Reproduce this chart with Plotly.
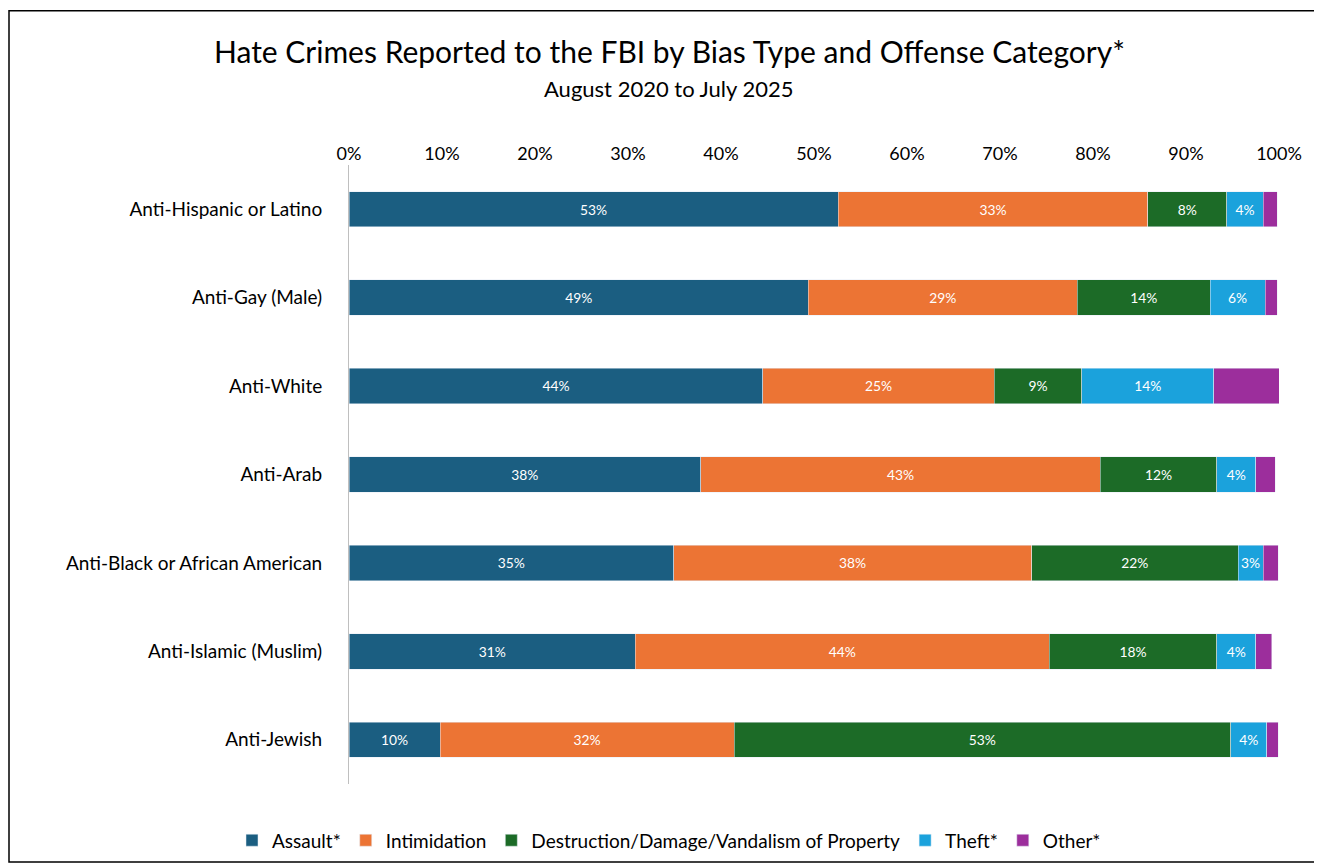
import plotly.graph_objects as go

categories = ["Anti-Hispanic or Latino", "Anti-Gay (Male)", "Anti-White", "Anti-Arab",
              "Anti-Black or African American", "Anti-Islamic (Muslim)", "Anti-Jewish"]
assault = [52.6, 49.4, 44.5, 37.8, 34.9, 30.8, 9.8]
intimidation = [33.3, 28.9, 24.9, 43.0, 38.5, 44.5, 31.6]
destruction = [8.5, 14.3, 9.4, 12.5, 22.2, 18.0, 53.4]
theft = [3.9, 5.9, 14.2, 4.2, 2.7, 4.2, 3.9]
other = [1.5, 1.3, 7.0, 2.1, 1.6, 1.7, 1.2]

series = [("Assault*", assault, "#1B5E81", True),
          ("Intimidation", intimidation, "#EC7434", True),
          ("Destruction/Damage/Vandalism of Property", destruction, "#1C6B27", True),
          ("Theft*", theft, "#1BA2DC", True),
          ("Other*", other, "#9C2E9C", False)]

fig = go.Figure()
for name, vals, col, lab in series:
    fig.add_trace(go.Bar(
        y=categories, x=vals, name=name, orientation="h", marker_color=col,
        text=[f"{round(v)}%" for v in vals] if lab else None,
        textposition="inside", insidetextanchor="middle",
        textfont=dict(color="white", size=18), textangle=0,
        hoverinfo="x+name"))

W, H = 1322, 863
l, r, t, b = 341, 51, 157, 80
pw, ph = W - l - r, H - t - b
fig.update_layout(
    barmode="stack", bargap=0.6, width=W, height=H,
    margin=dict(l=l, r=r, t=t, b=b),
    font=dict(family="Lato, Open Sans, sans-serif", size=18, color="black"),
    plot_bgcolor="white", paper_bgcolor="white",
    uniformtext=dict(mode="show", minsize=10),
    xaxis=dict(side="top", range=[0, 100], tickvals=list(range(0, 101, 10)),
               ticktext=[f"{v}%" for v in range(0, 101, 10)], showgrid=False,
               zeroline=False, showline=False, ticks="", tickfont=dict(size=18)),
    yaxis=dict(autorange="reversed", showgrid=False, ticks="", ticklabelstandoff=22,
               tickfont=dict(size=19), showline=True, linecolor="#BFBFBF", linewidth=1),
    legend=dict(orientation="h", x=0.5 - (l - r) / 2 / pw, xanchor="center",
                y=-(828 - 783 + 12) / ph, yanchor="middle", font=dict(size=19),
                traceorder="normal"),
    annotations=[
        dict(text="Hate Crimes Reported to the FBI by Bias Type and Offense Category*",
             xref="paper", yref="paper", x=(W / 2 - l) / pw, y=1 + (157 - 42) / ph,
             showarrow=False, font=dict(size=30), xanchor="center", yanchor="middle"),
        dict(text="August 2020 to July 2025", xref="paper", yref="paper",
             x=(W / 2 - l) / pw, y=1 + (157 - 80) / ph, showarrow=False,
             font=dict(size=22), xanchor="center", yanchor="middle"),
    ],
    shapes=[dict(type="rect", xref="paper", yref="paper",
                 x0=-(l - 1) / pw, x1=1 + (r - 1) / pw,
                 y0=-(b - 1) / ph, y1=1 + (t - 1) / ph,
                 line=dict(color="black", width=1.5))],
)
fig.write_html("out.html")
